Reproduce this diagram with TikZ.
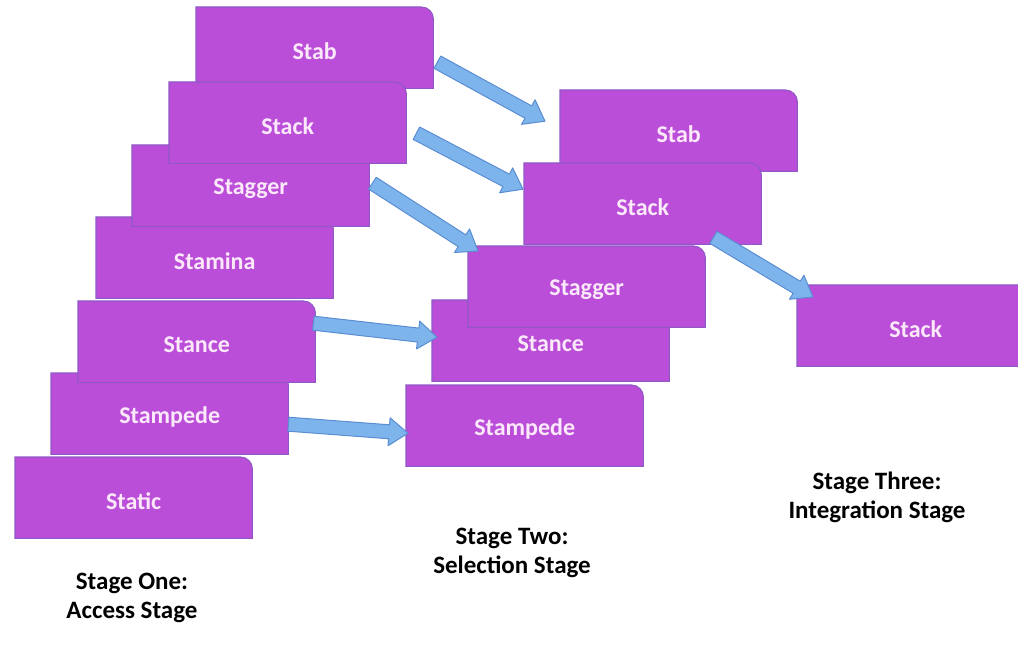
\documentclass[tikz,border=0pt]{standalone}
\usepackage{fontspec}
\setmainfont{Carlito}
\usetikzlibrary{calc}
\definecolor{boxfill}{HTML}{BB4ED9}
\definecolor{boxedge}{HTML}{8E58C6}
\definecolor{boxtext}{HTML}{FBE9FA}
\definecolor{arrowfill}{HTML}{7DB4EC}
\definecolor{arrowedge}{HTML}{5A8DD2}
\tikzset{
  boxsize/.style={rectangle, inner sep=0pt, minimum width=237pt, minimum height=81pt},
  boxline/.style={draw=boxedge, fill=boxfill, line width=1.1pt},
  boxword/.style={text=boxtext, font=\bfseries\fontsize{24}{28}\selectfont, inner sep=0pt},
  stagelabel/.style={align=center, font=\bfseries\fontsize{25}{29}\selectfont},
  arrowline/.style={draw=arrowedge, fill=arrowfill, line width=1pt, line join=round}
}
% box with one rounded corner: name, north west corner, word
\newcommand{\wordbox}[3]{%
  \path (#2) node[boxsize, anchor=north west] (#1) {};
  \draw[boxline] (#1.south west) -- (#1.north west) -- ([xshift=-12pt]#1.north east) arc[start angle=90, end angle=0, radius=12pt] -- (#1.south east) -- cycle;
  \node[boxword] (#1-w) at ([yshift=-3pt]#1.center) {#3};
}
% block arrow from #2 to #3, #1 names its head base
\newcommand{\blockarrow}[3]{%
  \coordinate (#1) at ($(#3)!19pt!(#2)$);
  \draw[arrowline] ($(#2)!7pt!90:(#3)$) -- ($(#1)!7pt!90:(#3)$) -- ($(#1)!14pt!90:(#3)$) -- (#3) -- ($(#1)!14pt!-90:(#3)$) -- ($(#1)!7pt!-90:(#3)$) -- ($(#2)!7pt!-90:(#3)$) -- cycle;
}

\begin{document}
\begin{tikzpicture}[x=1pt, y=-1pt]
    \useasboundingbox (0,0) rectangle (1018,647);
    \clip (0,0) rectangle (1018,647);
    % stage one
    \wordbox{stabA}{196,7}{Stab}
    \wordbox{staminaA}{96,217}{Stamina}
    \wordbox{staggerA}{132,145}{Stagger}
    \wordbox{stackA}{169,82}{Stack}
    \wordbox{stampedeA}{51,373}{Stampede}
    \wordbox{stanceA}{78,301}{Stance}
    \wordbox{staticA}{15,457}{Static}
    % stage two
    \wordbox{stabB}{560,90}{Stab}
    \wordbox{stackB}{524,163}{Stack}
    \wordbox{stanceB}{432,300}{Stance}
    \wordbox{staggerB}{468,246}{Stagger}
    \wordbox{stampedeB}{406,385}{Stampede}
    % stage three
    \wordbox{stackC}{797,285}{Stack}
    % arrow ends
    \coordinate (stabA-out) at ([shift={(4,14.5)}]stabA.east);
    \coordinate (stabB-in) at ([shift={(-15,-9.5)}]stabB.west);
    \coordinate (stackA-out) at ([shift={(10,10.5)}]stackA.east);
    \coordinate (stackB-in) at ([shift={(-1,-14.5)}]stackB.west);
    \coordinate (staggerA-out) at ([shift={(3,-2.5)}]staggerA.east);
    \coordinate (staggerB-in) at ([shift={(10,5)}]staggerB.north west);
    \coordinate (stanceA-out) at ([shift={(-2,-18.5)}]stanceA.east);
    \coordinate (stanceB-in) at ([shift={(5,-3.5)}]stanceB.west);
    \coordinate (stampedeA-out) at ([shift={(0,10.5)}]stampedeA.east);
    \coordinate (stampedeB-in) at ([shift={(2,7.5)}]stampedeB.west);
    \coordinate (stackB-out) at ([shift={(-48,-7)}]stackB.south east);
    \coordinate (stackC-in) at ([shift={(16,12)}]stackC.north west);
    \blockarrow{h1}{stabA-out}{stabB-in}
    \blockarrow{h2}{stackA-out}{stackB-in}
    \blockarrow{h3}{staggerA-out}{staggerB-in}
    \blockarrow{h4}{stanceA-out}{stanceB-in}
    \blockarrow{h5}{stampedeA-out}{stampedeB-in}
    \blockarrow{h6}{stackB-out}{stackC-in}
    % stage names
    \node[stagelabel] (stageOne) at (132,598) {Stage One:\\Access Stage};
    \node[stagelabel] (stageTwo) at (512,553) {Stage Two:\\Selection Stage};
    \node[stagelabel] (stageThree) at (877,497) {Stage Three:\\Integration Stage};
\end{tikzpicture}
\end{document}
